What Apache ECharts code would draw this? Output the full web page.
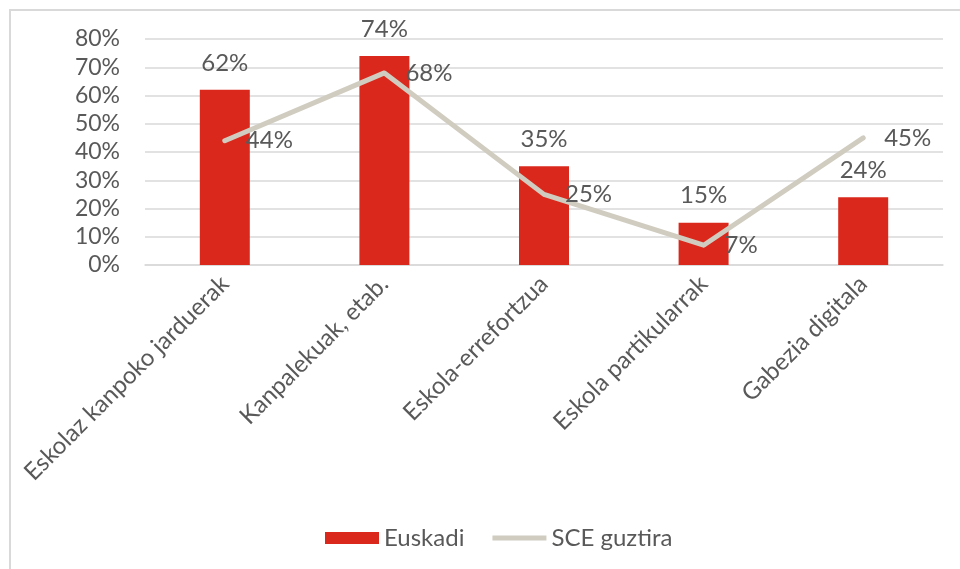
<!DOCTYPE html>
<html lang="eu">
<head>
    <meta charset="UTF-8">
    <title>Euskadi / SCE guztira</title>
    <style>
        html, body { margin: 0; padding: 0; background: #fff; overflow: hidden; }
        #frame {
            position: absolute; left: 9px; top: 9px;
            width: 1000px; height: 600px;
            border-left: 2px solid #D9D9D9; border-top: 2px solid #D9D9D9;
        }
        #main { position: absolute; left: 0; top: 0; width: 960px; height: 569px; }
    </style>
    <script src="https://cdn.jsdelivr.net/npm/echarts@6/dist/echarts.min.js"></script>
</head>
<body>
<div id="frame"></div>
<div id="main"></div>
<script>
    // datuak
    const categories = ['Eskolaz kanpoko jarduerak', 'Kanpalekuak, etab.', 'Eskola-errefortzua', 'Eskola partikularrak', 'Gabezia digitala']
    const euskadi = [62, 74, 35, 15, 24]
    const sceGuztira = [44, 68, 25, 7, 45]

    const textColor = '#595959'
    const font = 'Lato, "Open Sans", sans-serif'

    const myChart = echarts.init(document.getElementById('main'))
    myChart.setOption({
        animation: false,
        textStyle: { fontFamily: font },
        grid: { left: 145, right: 17, top: 39, bottom: 304 },
        legend: {
            bottom: 14,
            left: 320,
            itemGap: 28,
            itemWidth: 54,
            itemHeight: 12,
            textStyle: { fontSize: 24, color: textColor, fontFamily: font },
            data: [
                { name: 'Euskadi', icon: 'rect' },
                { name: 'SCE guztira', icon: 'path://M0,0 L54,0 L54,5 L0,5 Z' }
            ]
        },
        xAxis: {
            type: 'category',
            data: categories,
            axisTick: { show: false },
            axisLine: { lineStyle: { color: '#D9D9D9', width: 1.5 } },
            axisLabel: { rotate: 45, fontSize: 24, color: textColor, margin: 15, interval: 0 }
        },
        yAxis: {
            type: 'value',
            min: 0, max: 80, interval: 10,
            axisLabel: { formatter: '{value}%', fontSize: 23, color: textColor, margin: 25 },
            splitLine: { lineStyle: { color: '#D9D9D9', width: 1.5 } }
        },
        series: [
            {
                name: 'Euskadi',
                type: 'bar',
                data: euskadi,
                barWidth: 50,
                itemStyle: { color: '#DA291C' },
                label: { show: true, position: 'top', distance: 15, formatter: '{c}%', fontSize: 24, color: textColor }
            },
            {
                name: 'SCE guztira',
                type: 'line',
                data: sceGuztira,
                symbol: 'circle',
                symbolSize: 4,
                lineStyle: { color: '#D0CCC0', width: 5, cap: 'round', join: 'round' },
                itemStyle: { color: '#D0CCC0' },
                label: { show: true, position: 'right', distance: 19, formatter: '{c}%', fontSize: 24, color: textColor }
            }
        ]
    })
</script>
</body>
</html>
